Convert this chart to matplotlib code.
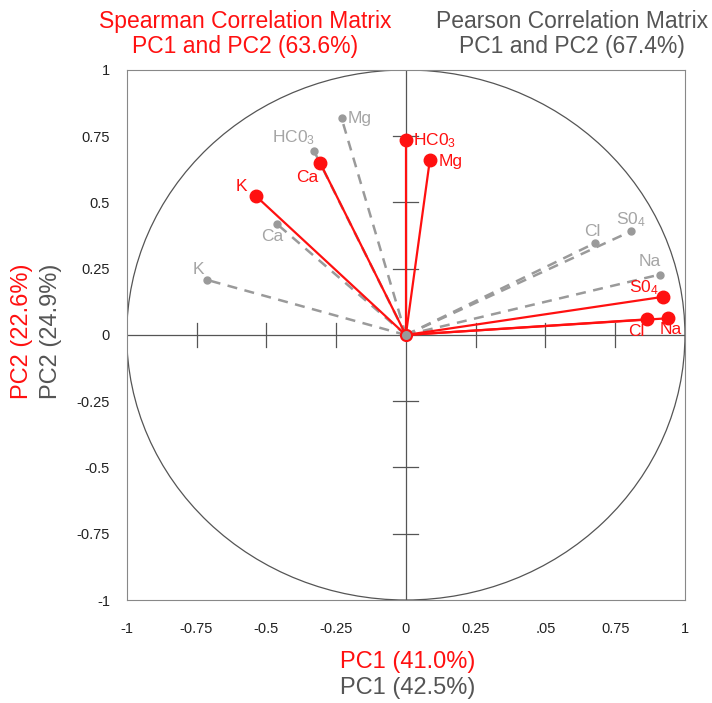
import matplotlib.pyplot as plt
from matplotlib.patches import Circle

plt.rcParams['font.family'] = ['Liberation Sans', 'DejaVu Sans']
plt.rcParams['mathtext.fontset'] = 'custom'
plt.rcParams['mathtext.rm'] = 'Liberation Sans'
plt.rcParams['mathtext.it'] = 'Liberation Sans'

ions = ['HC0$_3$', 'Mg', 'Ca', 'K', 'S0$_4$', 'Cl', 'Na']

# loadings on PC1 / PC2
spear_x = [0.0, 0.086, -0.307, -0.538, 0.922, 0.864, 0.938]
spear_y = [0.735, 0.66, 0.649, 0.525, 0.144, 0.059, 0.063]
pear_x = [-0.329, -0.23, -0.46, -0.713, 0.806, 0.678, 0.91]
pear_y = [0.694, 0.817, 0.417, 0.208, 0.391, 0.347, 0.228]

# label offsets in points (dx, dy, ha, va)
spear_lab = [(5, 0, 'left', 'center'), (6, -1, 'left', 'center'),
             (-1, -5, 'right', 'top'), (-6, 1, 'right', 'bottom'),
             (-3, 0, 'right', 'bottom'), (-2, -3, 'right', 'top'),
             (2, -3, 'center', 'top')]
pear_lab = [(1, 3, 'right', 'bottom'), (4, 0, 'left', 'center'),
            (-4, -3, 'center', 'top'), (-2, 2, 'right', 'bottom'),
            (0, 2, 'center', 'bottom'), (-2, 3, 'center', 'bottom'),
            (-7, 4, 'center', 'bottom')]

xticks = [-1, -0.75, -0.5, -0.25, 0, 0.25, 0.5, 0.75, 1]
xticklabels = ['-1', '-0.75', '-0.5', '-0.25', '0', '0.25', '.05', '0.75', '1']
yticks = [-1, -0.75, -0.5, -0.25, 0, 0.25, 0.5, 0.75, 1]
yticklabels = ['-1', '-0.75', '-0.5', '-0.25', '0', '0.25', '0.5', '0.75', '1']
inner = [-0.75, -0.5, -0.25, 0.25, 0.5, 0.75]

RED = '#ff1010'
GRAY = '#9a9a9a'
DARK = '#555555'

fig = plt.figure(figsize=(7.12, 7.03), dpi=100)
ax = fig.add_axes([0.178, 0.1465, 0.784, 0.754])
ax.set_xlim(-1, 1)
ax.set_ylim(-1, 1)

ax.add_patch(Circle((0, 0), 1, fill=False, ec='#555555', lw=0.9))
ax.axhline(0, color='#555555', lw=0.9)
ax.axvline(0, color='#555555', lw=0.9)
for t in inner:
    ax.plot([t, t], [-0.045, 0.045], color='#555555', lw=0.9)
    ax.plot([-0.045, 0.045], [t, t], color='#555555', lw=0.9)

for x, y, name, (dx, dy, ha, va) in zip(pear_x, pear_y, ions, pear_lab):
    ax.plot([0, x], [0, y], color=GRAY, lw=1.8, ls=(0, (4, 3)))
    ax.plot(x, y, 'o', color=GRAY, ms=5)
    ax.annotate(name, (x, y), xytext=(dx, dy), textcoords='offset points',
                ha=ha, va=va, color='#a5a5a5', fontsize=12.5)

for x, y, name, (dx, dy, ha, va) in zip(spear_x, spear_y, ions, spear_lab):
    ax.plot([0, x], [0, y], color=RED, lw=1.6)
    ax.plot(x, y, 'o', color=RED, ms=9)
    ax.annotate(name, (x, y), xytext=(dx, dy), textcoords='offset points',
                ha=ha, va=va, color=RED, fontsize=12.5)

ax.plot(0, 0, 'o', color=GRAY, mec=RED, mew=1.5, ms=8)

ax.set_xticks(xticks)
ax.set_xticklabels(xticklabels)
ax.set_yticks(yticks)
ax.set_yticklabels(yticklabels)
ax.tick_params(length=0, labelsize=10.5, colors='#222222')
ax.tick_params(axis='x', pad=16)
ax.tick_params(axis='y', pad=12)
for s in ax.spines.values():
    s.set_color('#888888')

fig.text(0.344, 0.952, 'Spearman Correlation Matrix\nPC1 and PC2 (63.6%)',
         ha='center', va='center', color=RED, fontsize=16.5, linespacing=1.12)
fig.text(0.803, 0.952, 'Pearson Correlation Matrix\nPC1 and PC2 (67.4%)',
         ha='center', va='center', color=DARK, fontsize=16.5, linespacing=1.12)
fig.text(0.572, 0.058, 'PC1 (41.0%)', ha='center', va='center', color=RED, fontsize=17)
fig.text(0.572, 0.021, 'PC1 (42.5%)', ha='center', va='center', color=DARK, fontsize=17)
fig.text(0.031, 0.529, 'PC2 (22.6%)', ha='center', va='center', color=RED,
         fontsize=17, rotation=90)
fig.text(0.071, 0.529, 'PC2 (24.9%)', ha='center', va='center', color=DARK,
         fontsize=17, rotation=90)

fig.savefig('out.png', dpi=100)
